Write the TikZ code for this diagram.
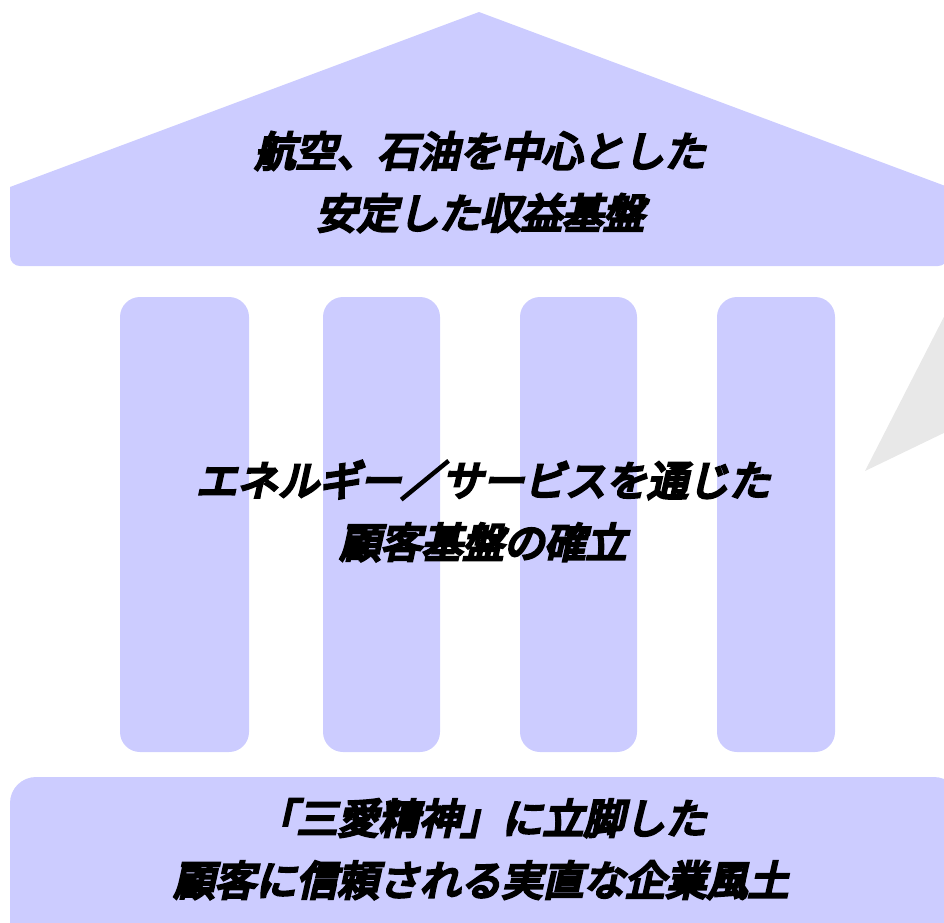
\documentclass[tikz,border=0pt]{standalone}
\usepackage{fontspec}
\newfontfamily\jpfont[FakeSlant=0.22,FakeBold=7]{Noto Sans CJK JP}
\definecolor{lav}{HTML}{CCCCFF}
\definecolor{tricolor}{HTML}{E8E8E8}
\begin{document}
\begin{tikzpicture}[x=1pt,y=-1pt,
  part/.style={fill=lav,draw=none},
  label/.style={font=\jpfont\fontsize{41}{62}\selectfont,align=center,text=black,inner sep=0pt}]
\useasboundingbox (0,0) rectangle (944,922);
\clip (0,0) rectangle (944,922);
% grey triangle at right
\fill[tricolor] (950,305) -- (865,471) -- (950,430) -- cycle;
% roof
\fill[part] (10,187) -- (479,12) -- (948,187) [rounded corners=10pt] -- (948,266) -- (10,266) [sharp corners] -- cycle;
% pillars
\fill[part,rounded corners=20pt] (120,297) rectangle (249,752);
\fill[part,rounded corners=20pt] (323,297) rectangle (440,752);
\fill[part,rounded corners=20pt] (520,297) rectangle (637,752);
\fill[part,rounded corners=20pt] (717,297) rectangle (835,752);
% base
\fill[part,rounded corners=26pt] (10,777) rectangle (960,960);
% texts
\node[label] (roof) at (480,182) {航空、石油を中心とした\\安定した収益基盤};
\node[label] (mid) at (483,511) {エネルギー／サービスを通じた\\顧客基盤の確立};
\node[label] (base) at (481,849) {「三愛精神」に立脚した\\顧客に信頼される実直な企業風土};
\end{tikzpicture}
\end{document}
